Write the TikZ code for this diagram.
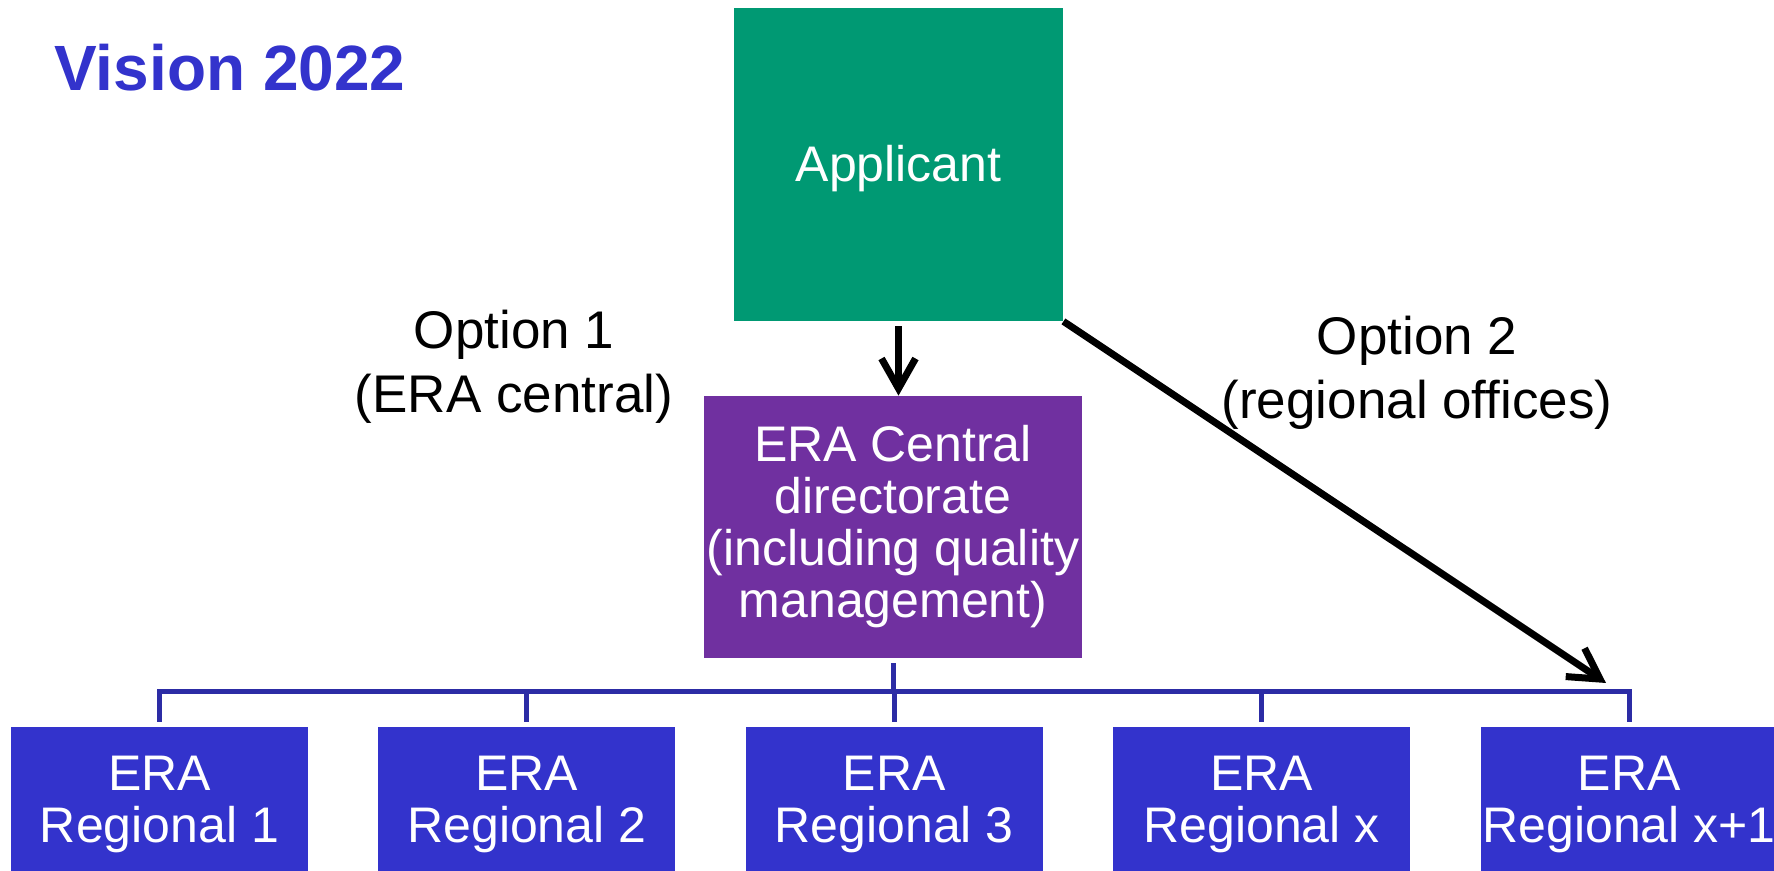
\documentclass[tikz,border=0pt]{standalone}
\usepackage{fontspec}
\setmainfont{Liberation Sans}
\usetikzlibrary{arrows.meta,positioning}
\definecolor{eraGreen}{RGB}{0,153,115}
\definecolor{eraPurple}{RGB}{112,48,160}
\definecolor{eraBlue}{RGB}{51,51,204}
\definecolor{eraLine}{RGB}{44,44,165}
\tikzset{
  box/.style={fill=#1, text=white, align=center, inner sep=0pt,
    font=\fontsize{25pt}{26pt}\selectfont},
  regbox/.style={box=eraBlue, minimum width=148.5pt, minimum height=77pt},
  lbl/.style={align=center, inner sep=0pt, font=\fontsize{26.5pt}{32pt}\selectfont},
  bus/.style={draw=eraLine, line width=2.5pt},
}
\begin{document}
\begin{tikzpicture}[x=0.5pt,y=-0.5pt,node distance=34.8pt]
  \useasboundingbox (0,0) rectangle (1774,871);
  \node[anchor=base west, inner sep=0pt, text=eraBlue,
    font=\fontsize{32pt}{38pt}\selectfont\bfseries] (title) at (54,91) {Vision 2022};
  \node[box=eraGreen, minimum width=164.5pt, minimum height=156.5pt, text depth=0.07em] (app) at (898.5,164.5) {Applicant};
  \node[box=eraPurple, minimum width=189pt, minimum height=131pt] (cen) at (893,527)
    {ERA Central\\directorate\\(including quality\\management)};
  \node[regbox] (reg1) at (159.5,804) {ERA\\Regional 1};
  \node[regbox, right=of reg1] (reg2) {ERA\\Regional 2};
  \node[regbox, right=of reg2] (reg3) {ERA\\Regional 3};
  \node[regbox, right=of reg3] (reg4) {ERA\\Regional x};
  \node[regbox, right=of reg4] (reg5) {ERA\\Regional x+1};
  \node[lbl] (opt1) at (514,367) {Option 1\\(ERA central)};
  \node[lbl] (opt2) at (1417,373) {Option 2\\(regional offices)};
  \coordinate (bus) at (893,692);
  \coordinate (tip) at (1606,683);
  \path[line width=3.5pt, -{Straight Barb[length=15pt,width=17pt]}]
    (app.south) edge [shorten <=2.5pt] (app.south |- cen.north)
    (app.south east) edge (tip);
  \draw[bus] ([yshift=2.5pt]reg1.north) |- (bus) -| ([yshift=2.5pt]reg5.north);
  \path[bus]
    (cen.south) edge [shorten <=2.5pt] (cen.south |- bus)
    (reg2.north |- bus) edge ([yshift=2.5pt]reg2.north)
    (reg3.north |- bus) edge ([yshift=2.5pt]reg3.north)
    (reg4.north |- bus) edge ([yshift=2.5pt]reg4.north);
\end{tikzpicture}
\end{document}
